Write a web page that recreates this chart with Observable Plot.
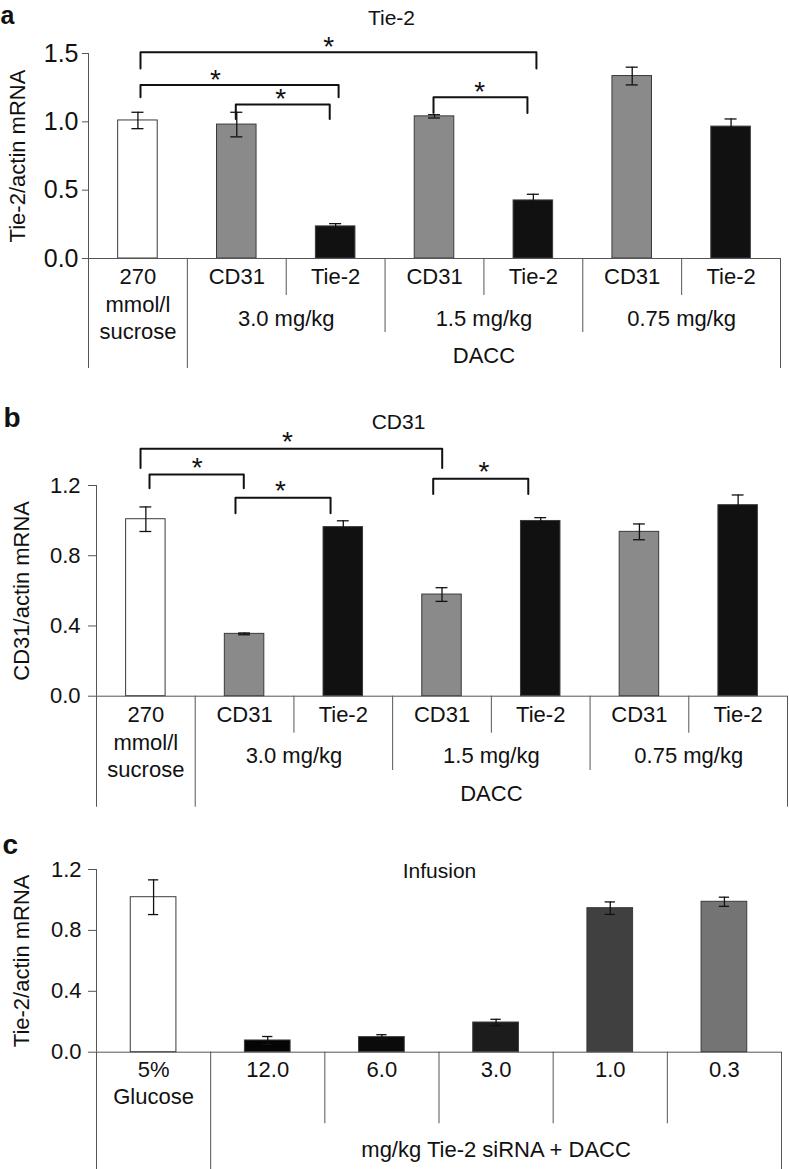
<!DOCTYPE html>
<html><head><meta charset="utf-8">
<script src="https://cdn.jsdelivr.net/npm/d3@7"></script>
<script src="https://cdn.jsdelivr.net/npm/@observablehq/plot@0.6"></script>
<style>
body{margin:0;background:#fff;}
#root{position:relative;width:789px;height:1169px;overflow:hidden;background:#fff;}
#root svg{display:block;}
</style></head><body><div id="root"></div>
<script>
// ---------- Panel a: Tie-2 ----------
const aLabels = ["270\nmmol/l\nsucrose","CD31","Tie-2","CD31","Tie-2","CD31","Tie-2"];
const aTreatment = ["Control","CD31","Tie-2","CD31","Tie-2","CD31","Tie-2"];
const aValues = [1.01, 0.98, 0.235, 1.04, 0.425, 1.335, 0.965];
const aErrors = [0.06, 0.09, 0.02, 0.012, 0.045, 0.065, 0.056];
const aDoseLabels = ["3.0 mg/kg","1.5 mg/kg","0.75 mg/kg"];
const aDoseStart = [1, 3, 5];
const aDoseEnd = [3, 5, 7];
const aOuter = ["DACC"];
const aYTicks = [0, 0.5, 1.0, 1.5];
// brackets: [left, right, top level, leg end, star x]  (x in category units)
const aBrackets = [
  [0.526, 4.531, 1.509, 1.39, 2.43],
  [0.526, 2.53, 1.27, 1.18, 1.285],
  [1.49, 2.44, 1.127, 1.02, 1.943],
  [3.49, 4.44, 1.18, 1.065, 3.957]
];
const aTableLevels = [3, 3, 1, 2, 1, 2, 1, 3];

// ---------- Panel b: CD31 ----------
const bLabels = ["270\nmmol/l\nsucrose","CD31","Tie-2","CD31","Tie-2","CD31","Tie-2"];
const bTreatment = ["Control","CD31","Tie-2","CD31","Tie-2","CD31","Tie-2"];
const bValues = [1.008, 0.355, 0.963, 0.579, 0.998, 0.936, 1.088];
const bErrors = [0.07, 0.005, 0.036, 0.039, 0.019, 0.045, 0.058];
const bDoseLabels = ["3.0 mg/kg","1.5 mg/kg","0.75 mg/kg"];
const bDoseStart = [1, 3, 5];
const bDoseEnd = [3, 5, 7];
const bOuter = ["DACC"];
const bYTicks = [0, 0.4, 0.8, 1.2];
const bBrackets = [
  [0.446, 3.502, 1.409, 1.30, 1.935],
  [0.537, 1.492, 1.262, 1.185, 1.02],
  [1.408, 2.371, 1.13, 1.042, 1.864],
  [3.411, 4.374, 1.238, 1.152, 3.924]
];
const bTableLevels = [3, 3, 1, 2, 1, 2, 1, 3];

// ---------- Panel c: Infusion ----------
const cLabels = ["5%\nGlucose","12.0","6.0","3.0","1.0","0.3"];
const cTreatment = ["Glucose","12.0","6.0","3.0","1.0","0.3"];
const cValues = [1.018, 0.077, 0.099, 0.195, 0.946, 0.988];
const cErrors = [0.114, 0.026, 0.016, 0.021, 0.041, 0.03];
const cOuter = ["mg/kg Tie-2 siRNA + DACC"];
const cYTicks = [0, 0.4, 0.8, 1.2];
const cTableLevels = [3, 3, 1, 1, 1, 1, 3];

const abColors = ["#ffffff", "#8a8a8a", "#111111"];
const cColors = ["#ffffff", "#050505", "#0b0b0b", "#1c1c1c", "#404040", "#747474"];

const FONT = "'Liberation Sans', Arial, Helvetica, sans-serif";
const W = 789;

function panel(cfg) {
  const n = cfg.labels.length;
  const plotH = cfg.height - cfg.marginTop - cfg.marginBottom;
  const plotW = W - cfg.marginLeft - cfg.marginRight;
  const k = cfg.yMax / plotH;
  const below = px => -px * k;
  const leftPx = px => -px * n / plotW;
  const bars = d3.range(n).map(i => ({i, label: cfg.labels[i], group: cfg.treatment[i], v: cfg.values[i], e: cfg.errors[i]}));
  const groups = (cfg.doseLabels || []).map((t, j) => ({t, s: cfg.doseStart[j], e: cfg.doseEnd[j]}));
  const brackets = cfg.brackets || [];
  const bracketPts = brackets.flatMap((b, j) => [
    {j, x: b[0], y: b[3]}, {j, x: b[0], y: b[2]}, {j, x: b[1], y: b[2]}, {j, x: b[1], y: b[3]}
  ]);
  const line = "#555";
  return Plot.plot({
    width: W, height: cfg.height,
    marginTop: cfg.marginTop, marginBottom: cfg.marginBottom,
    marginLeft: cfg.marginLeft, marginRight: cfg.marginRight,
    x: {domain: [0, n], axis: null},
    y: {domain: [0, cfg.yMax], axis: null},
    color: {domain: cfg.treatment, range: cfg.colors},
    style: {fontFamily: FONT, fontSize: "22px", color: "#111", background: "transparent", overflow: "visible"},
    marks: [
      // table lines below the axis
      Plot.ruleX(cfg.tableLevels, {x: (d, i) => i, y1: 0, y2: d => below(cfg.depths[d]), stroke: line, strokeWidth: 1}),
      // y axis line and ticks
      Plot.ruleX([0], {y1: 0, y2: cfg.yMax, stroke: line, strokeWidth: 1}),
      Plot.ruleY(cfg.yTicks, {y: d => d, x1: leftPx(cfg.tickSize), x2: 0, stroke: line, strokeWidth: 1}),
      Plot.text(cfg.yTicks, {x: 0, y: d => d, text: d3.format(".1f"), textAnchor: "end", dx: -(cfg.tickSize + cfg.tickPadding), fontSize: cfg.tickFont, fill: "#111"}),
      Plot.text([cfg.yLabel], {frameAnchor: "left", text: d => d, rotate: -90, dx: -cfg.labelOffset, lineAnchor: "top", textAnchor: "middle", fontSize: 22, fill: "#111"}),
      // bars
      Plot.rectY(bars, {x1: d => d.i + 0.3, x2: d => d.i + 0.7, y1: 0, y2: "v", fill: "group", stroke: "#3a3a3a", strokeWidth: 1}),
      // x axis line
      Plot.ruleY([0], {x1: 0, x2: n, stroke: line, strokeWidth: 1}),
      // error bars
      Plot.ruleX(bars, {x: d => d.i + 0.5, y1: d => d.v - d.e, y2: d => d.v + d.e, stroke: "#111", strokeWidth: 1.3}),
      Plot.ruleY(bars, {y: d => d.v + d.e, x1: d => d.i + 0.5 - cfg.cap, x2: d => d.i + 0.5 + cfg.cap, stroke: "#111", strokeWidth: 1.3}),
      Plot.ruleY(bars, {y: d => d.v - d.e, x1: d => d.i + 0.5 - cfg.cap, x2: d => d.i + 0.5 + cfg.cap, stroke: "#111", strokeWidth: 1.3}),
      // significance brackets
      Plot.line(bracketPts, {x: "x", y: "y", z: "j", stroke: "#111", strokeWidth: 2, strokeLinejoin: "round"}),
      Plot.text(brackets, {x: b => b[4], y: b => b[2], text: () => "*", fontSize: 28, lineAnchor: "bottom", dy: cfg.starDy, fill: "#111"}),
      // category labels
      Plot.text(bars, {x: d => d.i + 0.5, y: 0, text: "label", lineAnchor: "top", dy: cfg.labelDy, lineHeight: cfg.lineHeight, fontSize: 22, fill: "#111"}),
      Plot.text(groups, {x: g => (g.s + g.e) / 2, y: 0, text: "t", dy: cfg.groupDy, fontSize: 22, fill: "#111"}),
      Plot.text(cfg.outer, {x: (cfg.outerStart + cfg.outerEnd) / 2, y: 0, text: d => d, dy: cfg.outerDy, fontSize: 22, fill: "#111"}),
      // title and panel letter
      Plot.text([cfg.title], {frameAnchor: "top-left", dx: cfg.titleDx, dy: cfg.titleDy, text: d => d, fontSize: 21, lineAnchor: "bottom", textAnchor: "middle", fill: "#111"}),
      Plot.text([cfg.letter], {frameAnchor: "top-left", dx: cfg.letterDx, dy: cfg.letterDy, text: d => d, fontSize: cfg.letterFont, fontWeight: "bold", lineAnchor: "bottom", textAnchor: "start", fill: "#111"})
    ]
  });
}

const root = document.getElementById("root");

root.append(panel({
  height: 380, marginTop: 53, marginBottom: 122, marginLeft: 88, marginRight: 9,
  yMax: 1.5, yTicks: aYTicks, yLabel: "Tie-2/actin mRNA", labelOffset: 79, tickSize: 6, tickPadding: 4, tickFont: 25,
  labels: aLabels, treatment: aTreatment, values: aValues, errors: aErrors, colors: abColors,
  doseLabels: aDoseLabels, doseStart: aDoseStart, doseEnd: aDoseEnd,
  outer: aOuter, outerStart: 1, outerEnd: 7,
  brackets: aBrackets, tableLevels: aTableLevels, depths: [0, 37, 74, 110],
  cap: 0.061, starDy: 4, labelDy: 6, lineHeight: 1.25, groupDy: 60, outerDy: 97,
  title: "Tie-2", titleDx: 303, titleDy: -29, letter: "a", letterFont: 25, letterDx: -88, letterDy: -30
}));

root.append(panel({
  height: 440, marginTop: 105, marginBottom: 124.3, marginLeft: 96, marginRight: 2,
  yMax: 1.2, yTicks: bYTicks, yLabel: "CD31/actin mRNA", labelOffset: 83, tickSize: 8, tickPadding: 8, tickFont: 22,
  labels: bLabels, treatment: bTreatment, values: bValues, errors: bErrors, colors: abColors,
  doseLabels: bDoseLabels, doseStart: bDoseStart, doseEnd: bDoseEnd,
  outer: bOuter, outerStart: 1, outerEnd: 7,
  brackets: bBrackets, tableLevels: bTableLevels, depths: [0, 37, 74.3, 111],
  cap: 0.06, starDy: 2, labelDy: 6.5, lineHeight: 1.25, groupDy: 60, outerDy: 98,
  title: "CD31", titleDx: 302, titleDy: -57, letter: "b", letterFont: 28, letterDx: -93, letterDy: -59
}));

root.append(panel({
  height: 349, marginTop: 49, marginBottom: 117.3, marginLeft: 96, marginRight: 8,
  yMax: 1.2, yTicks: cYTicks, yLabel: "Tie-2/actin mRNA", labelOffset: 83, tickSize: 8, tickPadding: 7, tickFont: 22,
  labels: cLabels, treatment: cTreatment, values: cValues, errors: cErrors, colors: cColors,
  outer: cOuter, outerStart: 1, outerEnd: 6,
  brackets: [], tableLevels: cTableLevels, depths: [0, 71.6, 71.6, 118],
  cap: 0.045, starDy: 0, labelDy: 6.5, lineHeight: 1.2, groupDy: 0, outerDy: 98,
  title: "Infusion", titleDx: 343, titleDy: 8, letter: "c", letterFont: 28, letterDx: -94, letterDy: -16
}));
</script></body></html>
